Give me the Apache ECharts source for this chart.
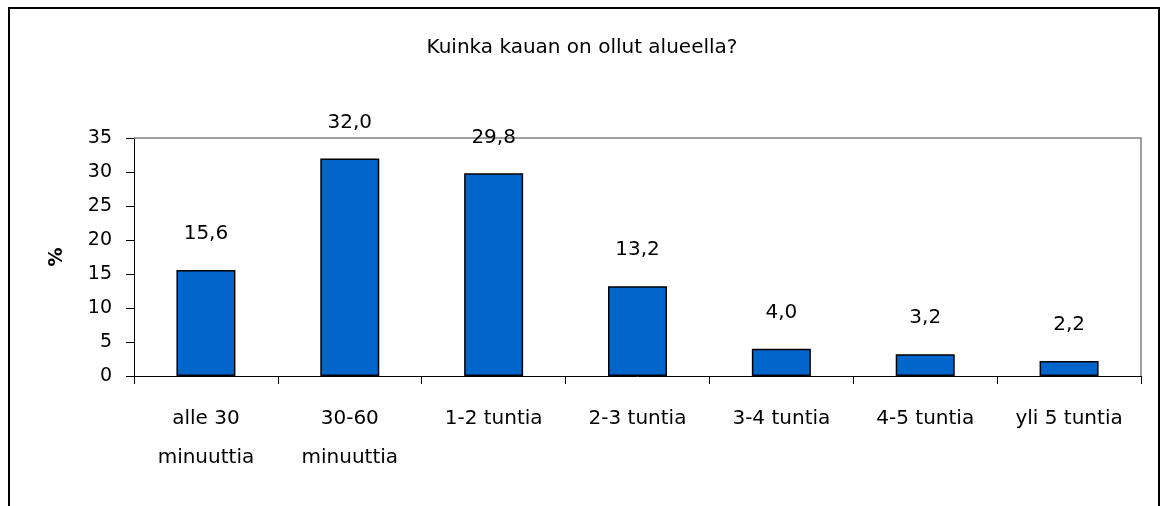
<!DOCTYPE html>
<html>
<head>
<meta charset="utf-8">
<script src="https://cdn.jsdelivr.net/npm/echarts@6/dist/echarts.min.js"></script>
<style>
html,body{margin:0;padding:0;background:#fff;}
#chart{width:1164px;height:506px;}
</style>
</head>
<body>
<div id="chart"></div>
<script>
const title = 'Kuinka kauan on ollut alueella?';
const categories = ['alle 30\nminuuttia', '30-60\nminuuttia', '1-2 tuntia', '2-3 tuntia', '3-4 tuntia', '4-5 tuntia', 'yli 5 tuntia'];
const values = [15.6, 32.0, 29.8, 13.2, 4.0, 3.2, 2.2];
const yTicks = [0, 5, 10, 15, 20, 25, 30, 35];
const yName = '%';

const FONT = 'DejaVu Sans';
const chart = echarts.init(document.getElementById('chart'), null, {renderer: 'canvas'});
chart.setOption({
  backgroundColor: '#fff',
  animation: false,
  title: {
    text: title,
    left: 'center',
    top: 33,
    textStyle: {fontFamily: FONT, fontSize: 20, fontWeight: 'normal', color: '#000'}
  },
  graphic: [
    {type: 'rect', shape: {x: 9, y: 8, width: 1150, height: 520}, style: {fill: null, stroke: '#000', lineWidth: 2}, z: 100},
    {type: 'polyline', shape: {points: [[134, 138], [1141, 138], [1141, 376]]}, style: {fill: null, stroke: '#808080', lineWidth: 1.5}, z: 1}
  ],
  grid: {left: 134, right: 23, top: 138, bottom: 130, containLabel: false},
  xAxis: {
    type: 'category',
    data: categories,
    axisLine: {show: true, lineStyle: {color: '#000', width: 1}},
    axisTick: {show: true, alignWithLabel: false, length: 8, lineStyle: {color: '#000'}},
    axisLabel: {fontFamily: FONT, fontSize: 20, color: '#000', margin: 23, lineHeight: 39, interval: 0},
    splitLine: {show: false}
  },
  yAxis: {
    type: 'value',
    min: yTicks[0],
    max: yTicks[yTicks.length - 1],
    interval: 5,
    name: yName,
    nameLocation: 'middle',
    nameRotate: 90,
    nameGap: 67,
    nameTextStyle: {fontFamily: FONT, fontSize: 19, fontWeight: 'bold', color: '#000'},
    axisLine: {show: true, lineStyle: {color: '#000', width: 1}},
    axisTick: {show: true, length: 8, lineStyle: {color: '#000'}},
    axisLabel: {fontFamily: FONT, fontSize: 19, color: '#000', margin: 22},
    splitLine: {show: false}
  },
  series: [{
    type: 'bar',
    data: values,
    barWidth: 59,
    itemStyle: {color: '#0066CC', borderColor: '#000', borderWidth: 1.5},
    label: {
      show: true,
      position: 'top',
      distance: 26,
      fontFamily: FONT,
      fontSize: 20,
      color: '#000',
      formatter: p => p.value.toFixed(1).replace('.', ',')
    }
  }]
});
</script>
</body>
</html>
